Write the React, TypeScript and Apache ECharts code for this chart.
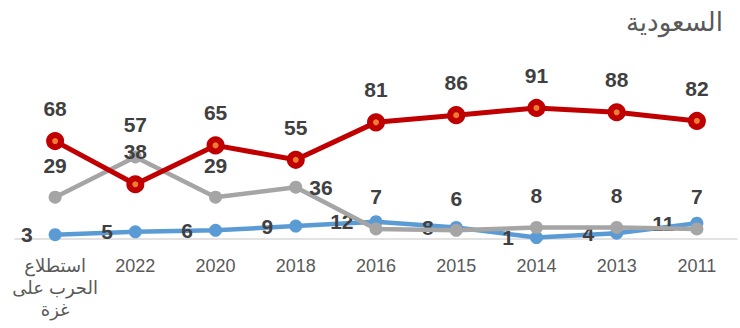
import React, { useEffect, useRef } from "react";
import * as echarts from "echarts";

const categories = ["استطلاع\nالحرب على\nغزة", "2022", "2020", "2018", "2016", "2015", "2014", "2013", "2011"];
const redValues = [68, 38, 65, 55, 81, 86, 91, 88, 82];
const grayValues = [29, 57, 29, 36, 7, 6, 8, 8, 7];
const blueValues = [3, 5, 6, 9, 12, 8, 1, 4, 11];
const grayRightLabelIndex = 3;
const titleText = "السعودية";

const labelFont = "'Liberation Sans', 'DejaVu Sans', sans-serif";

export default function App() {
  const ref = useRef<HTMLDivElement>(null);
  useEffect(() => {
    if (!ref.current) return;
    const chart = echarts.init(ref.current, undefined, { renderer: "svg" });
    const baseLabel = {
      show: true,
      fontSize: 21,
      fontWeight: "bold" as const,
      color: "#404040",
      fontFamily: labelFont,
    };
    chart.setOption({
      animation: false,
      title: {
        text: titleText,
        right: 12,
        top: 4,
        textStyle: { fontSize: 26, fontWeight: "normal", color: "#595959", fontFamily: labelFont },
      },
      grid: { left: 15, right: 3, top: 95, bottom: 89 },
      xAxis: {
        type: "category",
        data: categories,
        boundaryGap: true,
        axisLine: { lineStyle: { color: "#D9D9D9", width: 1.5 } },
        axisTick: { show: false },
        axisLabel: {
          color: "#595959",
          fontSize: 18,
          lineHeight: 22,
          margin: 16,
          interval: 0,
          fontFamily: labelFont,
        },
      },
      yAxis: { type: "value", min: 0, max: 100, show: false, splitLine: { show: false } },
      series: [
        {
          type: "line",
          data: blueValues,
          lineStyle: { color: "#5B9BD5", width: 4.5 },
          itemStyle: { color: "#5B9BD5" },
          symbol: "circle",
          symbolSize: 13,
          label: { ...baseLabel, position: "left", distance: 16 },
          z: 2,
        },
        {
          type: "line",
          data: grayValues.map((v, i) =>
            i === grayRightLabelIndex ? { value: v, label: { position: "right", distance: 7 } } : v
          ),
          lineStyle: { color: "#A5A5A5", width: 4.5 },
          itemStyle: { color: "#A5A5A5" },
          symbol: "circle",
          symbolSize: 13,
          label: { ...baseLabel, position: "top", distance: 15 },
          z: 3,
        },
        {
          type: "line",
          data: redValues,
          lineStyle: { color: "#C00000", width: 5 },
          itemStyle: { color: "#ED7D31", borderColor: "#C00000", borderWidth: 6 },
          symbol: "circle",
          symbolSize: 12,
          label: { ...baseLabel, position: "top", distance: 13 },
          z: 4,
        },
      ],
    });
    return () => chart.dispose();
  }, []);
  return (
    <div
      ref={ref}
      style={{ position: "fixed", left: 0, top: 0, width: 740, height: 328, background: "#fff" }}
    />
  );
}
